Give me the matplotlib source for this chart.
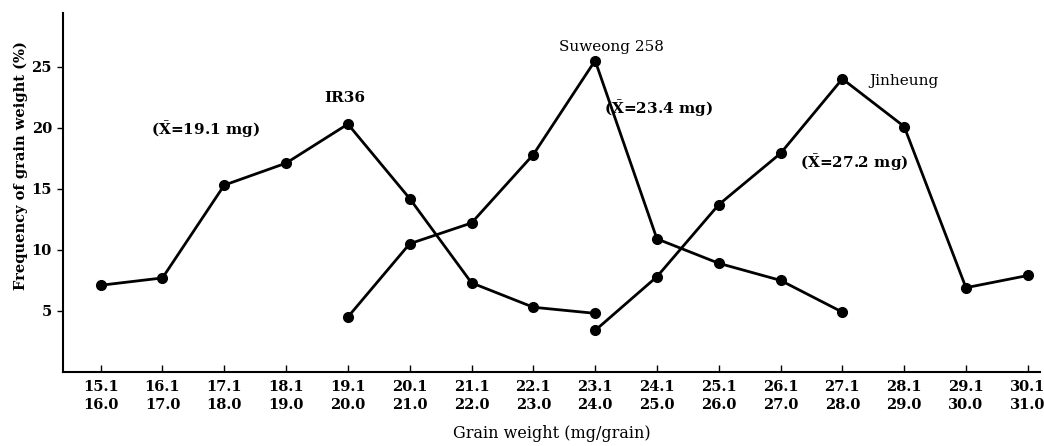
import matplotlib
matplotlib.use("Agg")
import matplotlib.pyplot as plt
import numpy as np

# grain weight classes (mg/grain)
class_low = ["15.1", "16.1", "17.1", "18.1", "19.1", "20.1", "21.1", "22.1",
             "23.1", "24.1", "25.1", "26.1", "27.1", "28.1", "29.1", "30.1"]
class_high = ["16.0", "17.0", "18.0", "19.0", "20.0", "21.0", "22.0", "23.0",
              "24.0", "25.0", "26.0", "27.0", "28.0", "29.0", "30.0", "31.0"]

# frequency (%) per class, each variety covers a run of classes
ir36_start = 0
ir36 = [7.1, 7.7, 15.3, 17.1, 20.3, 14.2, 7.3, 5.3, 4.8]
suweong_start = 4
suweong = [4.5, 10.5, 12.2, 17.8, 25.5, 10.9, 8.9, 7.5, 4.9]
jinheung_start = 8
jinheung = [3.4, 7.8, 13.7, 17.9, 24.0, 20.1, 6.9, 7.9]

plt.rcParams['font.family'] = ['DejaVu Serif']
plt.rcParams['mathtext.fontset'] = 'dejavuserif'

fig = plt.figure(figsize=(10.44, 4.46), dpi=100)
ax = fig.add_axes([0.0603, 0.166, 0.936, 0.805])

line_kw = dict(color='black', lw=2.0, marker='o', ms=7, mec='black', mfc='black')
for start, vals in [(ir36_start, ir36), (suweong_start, suweong), (jinheung_start, jinheung)]:
    xs = np.arange(start, start + len(vals))
    ax.plot(xs, vals, **line_kw)

ax.set_xlim(-0.61, 15.2)
ax.set_ylim(0, 29.4)

ax.spines['top'].set_visible(False)
ax.spines['right'].set_visible(False)
ax.spines['left'].set_linewidth(1.5)
ax.spines['bottom'].set_linewidth(1.5)

ax.set_xticks(np.arange(len(class_low)))
ax.set_xticklabels([f"{a}\n{b}" for a, b in zip(class_low, class_high)],
                   fontsize=10.5, fontweight='bold', linespacing=1.3)
ax.tick_params(axis='x', direction='in', length=5, width=1, pad=6)
ax.set_yticks([5, 10, 15, 20, 25])
ax.set_yticklabels(['5', '10', '15', '20', '25'], fontsize=10.5, fontweight='bold')
ax.tick_params(axis='y', direction='out', length=4, width=1, pad=4)

ax.set_xlabel("Grain weight (mg/grain)", fontsize=11.5, labelpad=10)
ax.set_ylabel("Frequency of grain weight (%)", fontsize=10.5, fontweight='bold')
ax.yaxis.set_label_coords(-0.036, 0.574)

txt = dict(fontsize=11, ha='center', va='center')
ax.text(3.95, 22.4, "IR36", fontweight='bold', **txt)
ax.text(1.7, 19.8, r"($\bar{\mathbf{X}}$=19.1 mg)", fontweight='bold', **txt)
ax.text(8.27, 26.6, "Suweong 258", **txt)
ax.text(9.03, 21.6, r"($\bar{\mathbf{X}}$=23.4 mg)", fontweight='bold', **txt)
ax.text(13.0, 23.8, "Jinheung", **txt)
ax.text(12.2, 17.1, r"($\bar{\mathbf{X}}$=27.2 mg)", fontweight='bold', **txt)

fig.savefig("out.png", dpi=100)
